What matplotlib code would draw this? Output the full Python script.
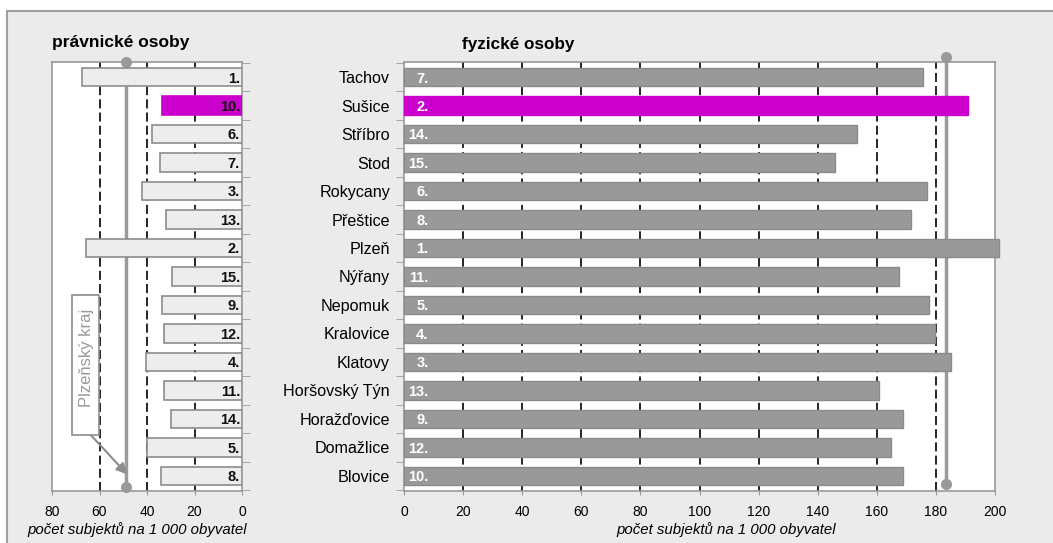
import matplotlib
matplotlib.use("Agg")
import matplotlib.pyplot as plt
from matplotlib.patches import Rectangle
import numpy as np

plt.rcParams['font.family'] = ['Liberation Sans', 'DejaVu Sans']
plt.rcParams['lines.scale_dashes'] = False

districts = ["Tachov", "Sušice", "Stříbro", "Stod", "Rokycany", "Přeštice", "Plzeň",
             "Nýřany", "Nepomuk", "Kralovice", "Klatovy", "Horšovský Týn",
             "Horažďovice", "Domažlice", "Blovice"]
legal_values = [67.4, 33.7, 37.9, 34.5, 42.1, 32.2, 65.7, 29.4, 33.8, 32.9, 40.4, 33.0, 29.8, 40.0, 34.0]
legal_ranks = ["1.", "10.", "6.", "7.", "3.", "13.", "2.", "15.", "9.", "12.", "4.", "11.", "14.", "5.", "8."]
natural_values = [175.6, 190.9, 153.3, 145.9, 177.0, 171.6, 201.4, 167.5, 177.7, 179.7, 185.1, 160.7, 168.9, 164.8, 168.8]
natural_ranks = ["7.", "2.", "14.", "15.", "6.", "8.", "1.", "11.", "5.", "4.", "3.", "13.", "9.", "12.", "10."]
highlight = "Sušice"
legal_region_avg = 49.0
natural_region_avg = 183.4
legal_refs = [40, 60]
natural_refs = [160, 180]
legal_ticks = [80, 60, 40, 20, 0]
natural_ticks = [0, 20, 40, 60, 80, 100, 120, 140, 160, 180, 200]
title_legal = "právnické osoby"
title_natural = "fyzické osoby"
xlabel = "počet subjektů na 1 000 obyvatel"
region_label = "Plzeňský kraj"

W, H = 1053, 543
fig = plt.figure(figsize=(W / 100, H / 100), dpi=100)
fig.patch.set_facecolor("white")
BG = "#ebebeb"

def fx(px):
    return px / W

def fy(py):
    return 1 - py / H

bgrect = Rectangle((fx(7), -0.1), 1.2, 1.1 - 11 / H, transform=fig.transFigure,
                   facecolor=BG, edgecolor="#a0a0a0", linewidth=1.5, zorder=-10)
fig.add_artist(bgrect)

top, bottom = 62, 491
axL = fig.add_axes([fx(52), fy(bottom), fx(242 - 52), (bottom - top) / H])
axR = fig.add_axes([fx(404), fy(bottom), fx(995 - 404), (bottom - top) / H])

n = len(districts)
y = np.arange(n)
bh = 0.65
SPINE = "#999999"
magenta = "#cc00cc"
dash = (0, (6.5, 3))

for ax in (axL, axR):
    ax.set_facecolor("white")
    ax.set_ylim(n - 0.47, -0.53)
    for s in ax.spines.values():
        s.set_color(SPINE)
        s.set_linewidth(1.2)
    ax.set_yticks(y)
    ax.set_yticks(np.arange(n + 1) - 0.5, minor=True)
    ax.tick_params(axis='x', length=3, color=SPINE, labelsize=10, pad=7)

# left panel
axL.set_xlim(80, 0)
axL.set_xticks(legal_ticks)
axL.set_xticklabels([str(t) for t in legal_ticks])
for gx in [20] + legal_refs:
    axL.axvline(gx, color="black", lw=1.2, linestyle=dash, zorder=1)
axL.plot([legal_region_avg, legal_region_avg], [n - 0.62, -0.53], color="#9a9a9a", lw=2.5,
         marker="o", markersize=7, clip_on=False, zorder=2)
for i, (v, r, d) in enumerate(zip(legal_values, legal_ranks, districts)):
    fc = magenta if d == highlight else "#ededed"
    ec = magenta if d == highlight else "#8c8c8c"
    axL.barh(i, v, height=bh, color=fc, edgecolor=ec, linewidth=1.2, zorder=3)
    axL.text(0.8, i + 0.05, r, ha="right", va="center", fontsize=10.5, fontweight="bold",
             color="#111111", zorder=4)
axL.yaxis.tick_right()
axL.tick_params(axis='y', which='major', length=0, labelright=False, labelleft=False)
axL.tick_params(axis='y', which='minor', length=6, color=SPINE, direction='out')

# right panel
axR.set_xlim(0, 200)
axR.set_xticks(natural_ticks)
axR.set_xticklabels([str(t) for t in natural_ticks])
for gx in natural_ticks[1:-1]:
    axR.axvline(gx, color="black", lw=1.2, linestyle=dash, zorder=1)
axR.plot([natural_region_avg, natural_region_avg], [n - 0.7, -0.7], color="#9a9a9a", lw=2.5,
         marker="o", markersize=7, clip_on=False, zorder=2)
for i, (v, r, d) in enumerate(zip(natural_values, natural_ranks, districts)):
    fc = magenta if d == highlight else "#999999"
    ec = magenta if d == highlight else "#8a8a8a"
    axR.barh(i, v, height=bh, color=fc, edgecolor=ec, linewidth=1.0, zorder=3, clip_on=False)
    axR.text(8.3, i + 0.05, r, ha="right", va="center", fontsize=10.5, fontweight="bold",
             color="white", zorder=4)
axR.set_yticklabels(districts, fontsize=11.6)
axR.tick_params(axis='y', which='major', length=0, pad=10)
axR.tick_params(axis='y', which='minor', length=6, color=SPINE, direction='out')

# titles and labels
fig.text(fx(52), fy(42), title_legal, ha="left", va="center", fontsize=12.5, fontweight="bold")
fig.text(fx(462), fy(45), title_natural, ha="left", va="center", fontsize=12.3, fontweight="bold")
fig.text(fx(137), fy(530), xlabel, ha="center", va="center", fontsize=10.8, style="italic")
fig.text(fx(726), fy(530), xlabel, ha="center", va="center", fontsize=10.8, style="italic")

# region annotation
axL.annotate("", xy=(47.5, n - 0.98), xytext=(65.5, n - 2.6),
             arrowprops=dict(arrowstyle="-|>", color="#8c8c8c", lw=1.5, mutation_scale=16),
             zorder=5, annotation_clip=False)
boxrect = Rectangle((fx(72), fy(435)), fx(99 - 72), (435 - 295) / H, transform=fig.transFigure,
                    facecolor="white", edgecolor="#8c8c8c", linewidth=1.2, zorder=6)
fig.add_artist(boxrect)
fig.text(fx(86), fy(358), region_label, rotation=90, ha="center", va="center", fontsize=12,
         color="#9a9a9a", zorder=7)

fig.savefig("out.png", dpi=100)
